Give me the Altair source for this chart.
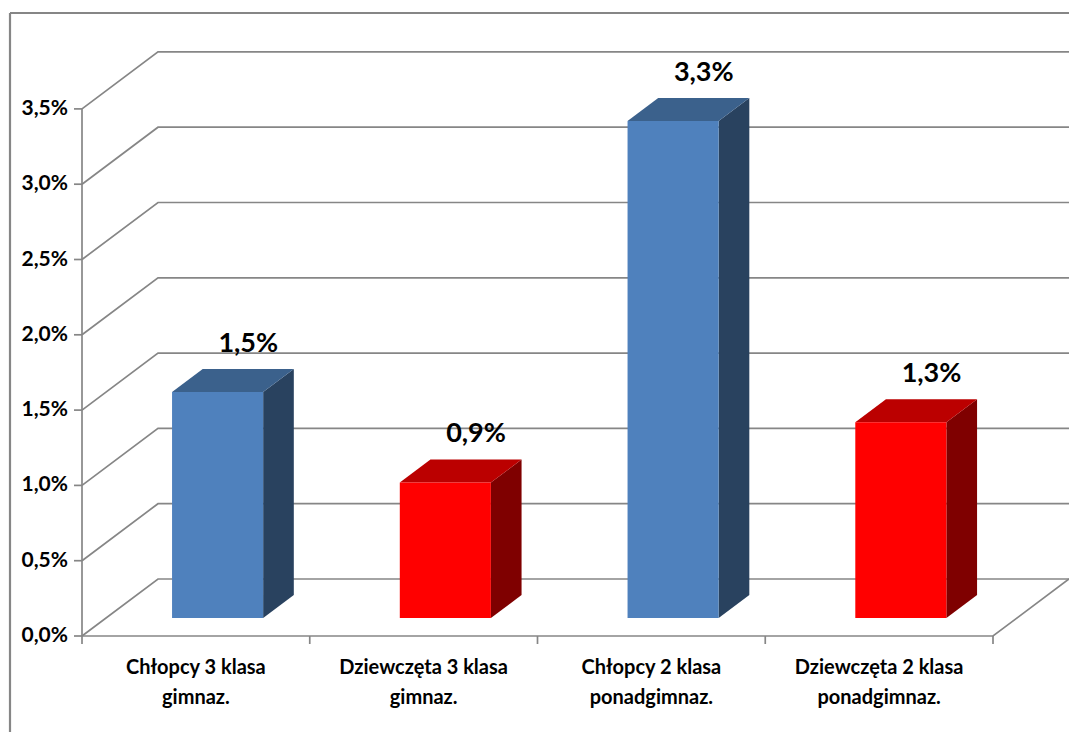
import altair as alt
import pandas as pd

# ---- data ----
cat_line1 = ["Chłopcy 3 klasa", "Dziewczęta 3 klasa", "Chłopcy 2 klasa", "Dziewczęta 2 klasa"]
cat_line2 = ["gimnaz.", "gimnaz.", "ponadgimnaz.", "ponadgimnaz."]
values = [1.5, 0.9, 3.3, 1.3]
groups = ["boys", "girls", "boys", "girls"]
y_ticks = [0.0, 0.5, 1.0, 1.5, 2.0, 2.5, 3.0, 3.5]

# ---- geometry (pixel -> data units of the scales) ----
PX_X = 227.75          # px per category
PX_Y = 150.6           # px per 1 %
DX = 76 / PX_X         # depth offset of the back wall (x)
DZ = 57 / PX_Y         # depth offset of the back wall (y)
F1, F2 = 18 / 57, 41 / 57   # bar front / back depth fractions
BAR_L, BAR_W = 0.29, 0.40
n = len(values)

X0 = (10 - 82) / PX_X
X1 = (1069 - 82) / PX_X
Y0 = (636 - 732) / PX_Y
Y1 = (636 - 13) / PX_Y

xs = alt.Scale(domain=[X0, X1], nice=False, zero=False)
ys = alt.Scale(domain=[Y0, Y1], nice=False, zero=False)

colors = {
    "boys_front": "#4F81BD", "boys_side": "#29425F", "boys_top": "#3B618C",
    "girls_front": "#FF0000", "girls_side": "#7F0000", "girls_top": "#BB0000",
}
cscale = alt.Scale(domain=list(colors.keys()), range=list(colors.values()))

GRID = "#868686"
FONT = "Lato"

def fmt(v):
    return f"{v:.1f}".replace(".", ",") + "%"

# gridlines (front tick -> back wall -> right end)
grid_rows = []
for t in y_ticks:
    grid_rows += [
        dict(g=f"g{t}", k=0, x=0.0, y=t),
        dict(g=f"g{t}", k=1, x=DX, y=t + DZ),
        dict(g=f"g{t}", k=2, x=n + DX, y=t + DZ),
    ]
grid_rows += [
    dict(g="floor", k=0, x=0.0, y=0.0),
    dict(g="floor", k=1, x=float(n), y=0.0),
    dict(g="floor", k=2, x=n + DX, y=DZ),
]
grid_df = pd.DataFrame(grid_rows)

lines = alt.Chart(grid_df).mark_line(color=GRID, strokeWidth=1.7).encode(
    x=alt.X("x:Q", scale=xs, axis=None),
    y=alt.Y("y:Q", scale=ys, axis=None),
    detail="g:N",
    order=alt.Order("k:Q"),
)

# y axis line
yaxis = alt.Chart(pd.DataFrame({"x": [0.0], "y": [0.0], "y2": [max(y_ticks)]})).mark_rule(
    color=GRID, strokeWidth=1.7).encode(
    x=alt.X("x:Q", scale=xs, axis=None), y=alt.Y("y:Q", scale=ys, axis=None), y2="y2:Q")

# y ticks
yt_df = pd.DataFrame({"x": 0.0, "x2": -8 / PX_X, "y": y_ticks, "lab": [fmt(t) for t in y_ticks]})
yticks = alt.Chart(yt_df).mark_rule(color=GRID, strokeWidth=1.7).encode(
    x=alt.X("x:Q", scale=xs, axis=None), x2="x2:Q", y=alt.Y("y:Q", scale=ys, axis=None))
ylabels = alt.Chart(yt_df).mark_text(
    align="right", baseline="middle", dx=-14, font=FONT, fontWeight="bold", fontSize=21, color="#000000"
).encode(x=alt.X("x:Q", scale=xs, axis=None), y=alt.Y("y:Q", scale=ys, axis=None), text="lab:N")

# x ticks
xt_df = pd.DataFrame({"x": [float(i) for i in range(n + 1)], "y": 0.0, "y2": -8 / PX_Y})
xticks = alt.Chart(xt_df).mark_rule(color=GRID, strokeWidth=1.7).encode(
    x=alt.X("x:Q", scale=xs, axis=None), y=alt.Y("y:Q", scale=ys, axis=None), y2="y2:Q")

# category labels
cat_df = pd.DataFrame({"x": [i + 0.5 for i in range(n)], "y": 0.0, "l1": cat_line1, "l2": cat_line2})
cat1 = alt.Chart(cat_df).mark_text(
    align="center", baseline="middle", dy=32, font=FONT, fontWeight="bold", fontSize=20, color="#000000"
).encode(x=alt.X("x:Q", scale=xs, axis=None), y=alt.Y("y:Q", scale=ys, axis=None), text="l1:N")
cat2 = alt.Chart(cat_df).mark_text(
    align="center", baseline="middle", dy=62, font=FONT, fontWeight="bold", fontSize=20, color="#000000"
).encode(x=alt.X("x:Q", scale=xs, axis=None), y=alt.Y("y:Q", scale=ys, axis=None), text="l2:N")

# bars: front, side, top faces
front_rows, side_rows, top_rows, lab_rows = [], [], [], []
for i, (v, g) in enumerate(zip(values, groups)):
    l = i + BAR_L + F1 * DX
    r = l + BAR_W
    b = F1 * DZ
    t = v + F1 * DZ
    ddx = (F2 - F1) * DX
    ddz = (F2 - F1) * DZ
    front_rows.append(dict(x=l, x2=r, y=b, y2=t, c=f"{g}_front"))
    side_rows += [
        dict(id=i, x=r, y=b, y2=t, c=f"{g}_side"),
        dict(id=i, x=r + ddx, y=b + ddz, y2=t + ddz, c=f"{g}_side"),
    ]
    top_rows += [
        dict(id=i, y=t, x=l, x2=r, c=f"{g}_top"),
        dict(id=i, y=t + ddz, x=l + ddx, x2=r + ddx, c=f"{g}_top"),
    ]
    lab_rows.append(dict(x=(l + r) / 2 + ddx, y=t + ddz, lab=fmt(v)))

front = alt.Chart(pd.DataFrame(front_rows)).mark_rect().encode(
    x=alt.X("x:Q", scale=xs, axis=None), x2="x2:Q",
    y=alt.Y("y:Q", scale=ys, axis=None), y2="y2:Q",
    color=alt.Color("c:N", scale=cscale, legend=None),
)
side = alt.Chart(pd.DataFrame(side_rows)).mark_area(orient="vertical").encode(
    x=alt.X("x:Q", scale=xs, axis=None),
    y=alt.Y("y:Q", scale=ys, axis=None), y2="y2:Q",
    detail="id:N",
    color=alt.Color("c:N", scale=cscale, legend=None),
)
top = alt.Chart(pd.DataFrame(top_rows)).mark_area(orient="horizontal").encode(
    y=alt.Y("y:Q", scale=ys, axis=None),
    x=alt.X("x:Q", scale=xs, axis=None), x2="x2:Q",
    detail="id:N",
    color=alt.Color("c:N", scale=cscale, legend=None),
)
vlabels = alt.Chart(pd.DataFrame(lab_rows)).mark_text(
    align="center", baseline="middle", dy=-25, font=FONT, fontWeight="bold", fontSize=27, color="#000000"
).encode(x=alt.X("x:Q", scale=xs, axis=None), y=alt.Y("y:Q", scale=ys, axis=None), text="lab:N")

# outer border (top, left)
border_df = pd.DataFrame([
    dict(x=X0, x2=X1, y=Y1, y2=Y1),
    dict(x=X0, x2=X0, y=Y0, y2=Y1),
])
border = alt.Chart(border_df).mark_rule(color=GRID, strokeWidth=2.2).encode(
    x=alt.X("x:Q", scale=xs, axis=None), x2="x2:Q",
    y=alt.Y("y:Q", scale=ys, axis=None), y2="y2:Q")

chart = alt.layer(
    lines, yaxis, yticks, xticks, side, top, front, ylabels, cat1, cat2, vlabels, border
).properties(
    width=1059, height=719,
    autosize=alt.AutoSizeParams(type="none"),
    padding={"left": 2, "top": 5, "right": 0, "bottom": 0},
    background="white",
).configure_view(strokeWidth=0)

chart.save("out.html", embed_options={"renderer": "svg", "actions": False})
